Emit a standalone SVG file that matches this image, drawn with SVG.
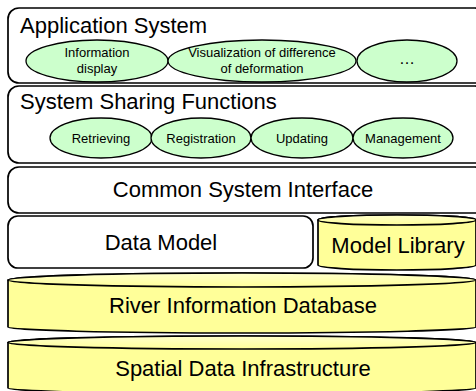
<svg xmlns="http://www.w3.org/2000/svg" width="476" height="391" viewBox="0 0 476 391">
<defs>
<linearGradient id="cap" x1="0" y1="0" x2="0" y2="1">
<stop offset="0" stop-color="#ffffcc"/>
<stop offset="1" stop-color="#ffff99"/>
</linearGradient>
</defs>
<style>
.box{fill:#ffffff;stroke:#000;stroke-width:1.7}
.ell{fill:#ccffcc;stroke:#000;stroke-width:1.3}
.cyl{fill:#ffff99;stroke:#000;stroke-width:1.7}
.capf{fill:url(#cap);stroke:#000;stroke-width:1.7}
.big{font-family:"Liberation Sans",Arial,sans-serif;font-size:22px;fill:#000}
.sm{font-family:"Liberation Sans",Arial,sans-serif;font-size:13px;fill:#000;text-anchor:middle}
.mid{text-anchor:middle}
</style>
<g id="application-system">
<rect class="box" x="8" y="8" width="478" height="75" rx="11"/>
<text class="big" x="20" y="33">Application System</text>
<g id="info-display">
<ellipse class="ell" cx="97" cy="61" rx="71" ry="21"/>
<text class="sm" x="97" y="57">Information</text>
<text class="sm" x="97" y="73">display</text>
</g>
<g id="visualization">
<ellipse class="ell" cx="262" cy="61" rx="94" ry="21"/>
<text class="sm" x="262" y="57">Visualization of difference</text>
<text class="sm" x="262" y="73">of deformation</text>
</g>
<g id="more">
<ellipse class="ell" cx="407" cy="61" rx="50" ry="21"/>
<text class="sm" x="407" y="64" style="font-size:16px">…</text>
</g>
</g>
<g id="system-sharing-functions">
<rect class="box" x="8" y="86" width="478" height="77" rx="11"/>
<text class="big" x="20" y="109">System Sharing Functions</text>
<g id="retrieving">
<ellipse class="ell" cx="101" cy="138" rx="51" ry="20"/>
<text class="sm" x="101" y="143">Retrieving</text>
</g>
<g id="registration">
<ellipse class="ell" cx="201" cy="138" rx="50" ry="20"/>
<text class="sm" x="201" y="143">Registration</text>
</g>
<g id="updating">
<ellipse class="ell" cx="302" cy="138" rx="51" ry="20"/>
<text class="sm" x="302" y="143">Updating</text>
</g>
<g id="management">
<ellipse class="ell" cx="403" cy="138" rx="50" ry="20"/>
<text class="sm" x="403" y="143">Management</text>
</g>
</g>
<g id="common-system-interface">
<rect class="box" x="8" y="167" width="478" height="46" rx="11"/>
<text class="big mid" x="243" y="197">Common System Interface</text>
</g>
<g id="data-model">
<rect class="box" x="8" y="216" width="305" height="52" rx="10"/>
<text class="big mid" x="161" y="250">Data Model</text>
</g>
<g id="model-library">
<path class="cyl" d="M318,220 A79,5 0 0 1 476,220 V265 A79,5 0 0 1 318,265 Z"/>
<ellipse class="capf" cx="397" cy="220" rx="79" ry="5"/>
<text class="big mid" x="398" y="253">Model Library</text>
</g>
<g id="river-information-database">
<path class="cyl" d="M8,280 A234,7 0 0 1 476,280 V327 A234,6 0 0 1 8,327 Z"/>
<ellipse class="capf" cx="242" cy="280" rx="234" ry="7"/>
<text class="big mid" x="243" y="313">River Information Database</text>
</g>
<g id="spatial-data-infrastructure">
<path class="cyl" d="M8,342.5 A234,6.5 0 0 1 476,342.5 V388 A234,6 0 0 1 8,388 Z"/>
<ellipse class="capf" cx="242" cy="342.5" rx="234" ry="6.5"/>
<text class="big mid" x="243" y="376">Spatial Data Infrastructure</text>
</g>
<g id="connectors"/>
</svg>
